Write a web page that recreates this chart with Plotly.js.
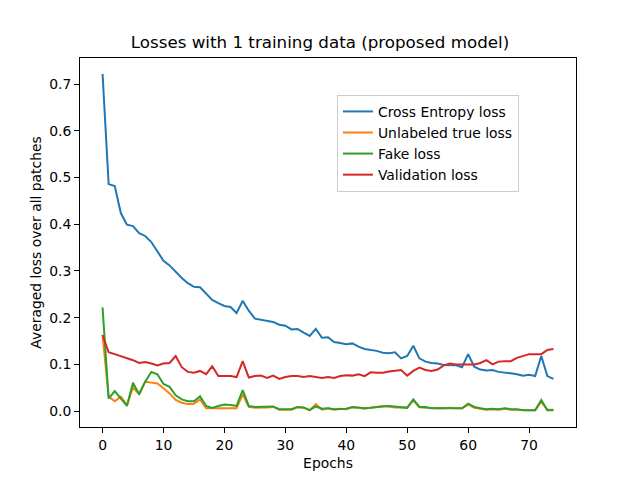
<!DOCTYPE html>
<html>
<head>
<meta charset="utf-8">
<script src="https://cdn.plot.ly/plotly-3.0.1.min.js"></script>
<style>
  body { margin: 0; background: #fff; }
  #plot1 { width: 640px; height: 480px; }
</style>
</head>
<body>
<div id="plot1"></div>
<script>
// values, one per epoch (0..74)
let epochs = [];
for (let i = 0; i < 75; i++) {
	epochs.push(i);
}

let crossEntropy = [0.722,0.486,0.482,0.424,0.399,0.396,0.381,0.375,0.362,0.342,
	0.322,0.312,0.298,0.285,0.274,0.266,0.265,0.252,0.238,0.231,
	0.225,0.223,0.210,0.236,0.215,0.198,0.196,0.193,0.191,0.185,
	0.183,0.175,0.176,0.168,0.161,0.176,0.157,0.158,0.148,0.146,
	0.143,0.145,0.138,0.133,0.131,0.129,0.125,0.124,0.126,0.113,
	0.118,0.140,0.113,0.106,0.103,0.102,0.099,0.098,0.098,0.094,
	0.122,0.095,0.089,0.087,0.088,0.084,0.083,0.081,0.079,0.076,
	0.078,0.075,0.118,0.075,0.069];

let unlabeledTrue = [0.163,0.031,0.021,0.031,0.013,0.051,0.036,0.063,0.061,0.059,
	0.049,0.038,0.024,0.018,0.015,0.016,0.025,0.006,0.006,0.006,
	0.006,0.006,0.006,0.036,0.009,0.007,0.007,0.008,0.009,0.003,
	0.003,0.003,0.008,0.007,0.002,0.015,0.003,0.006,0.003,0.005,
	0.004,0.008,0.007,0.005,0.007,0.009,0.011,0.010,0.008,0.008,
	0.008,0.023,0.008,0.007,0.006,0.006,0.006,0.007,0.006,0.006,
	0.014,0.007,0.005,0.003,0.004,0.003,0.005,0.003,0.003,0.002,
	0.002,0.002,0.020,0.003,0.003];

let fake = [0.222,0.027,0.043,0.028,0.011,0.061,0.036,0.063,0.084,0.079,
	0.058,0.052,0.034,0.025,0.021,0.021,0.032,0.011,0.007,0.011,
	0.014,0.013,0.011,0.045,0.011,0.009,0.009,0.009,0.010,0.004,
	0.004,0.004,0.009,0.008,0.002,0.010,0.005,0.006,0.004,0.005,
	0.005,0.009,0.008,0.006,0.007,0.009,0.010,0.011,0.010,0.009,
	0.007,0.025,0.009,0.009,0.006,0.006,0.006,0.006,0.006,0.006,
	0.016,0.009,0.006,0.004,0.005,0.004,0.006,0.004,0.004,0.002,
	0.002,0.002,0.024,0.002,0.002];

let validation = [0.163,0.126,0.122,0.118,0.114,0.109,0.103,0.105,0.102,0.098,
	0.102,0.103,0.118,0.094,0.084,0.082,0.086,0.079,0.096,0.075,
	0.075,0.075,0.073,0.107,0.072,0.075,0.076,0.071,0.076,0.069,
	0.073,0.075,0.075,0.073,0.075,0.073,0.071,0.073,0.071,0.075,
	0.077,0.076,0.079,0.075,0.083,0.082,0.082,0.085,0.086,0.088,
	0.076,0.086,0.093,0.088,0.086,0.089,0.098,0.102,0.100,0.100,
	0.100,0.100,0.103,0.109,0.100,0.106,0.107,0.107,0.114,0.118,
	0.122,0.122,0.122,0.131,0.133];

let seriesNames = ['Cross Entropy loss', 'Unlabeled true loss', 'Fake loss', 'Validation loss'];
let seriesColors = ['#1f77b4', '#ff7f0e', '#2ca02c', '#d62728'];
let seriesValues = [crossEntropy, unlabeledTrue, fake, validation];

let data = [];
for (let i = 0; i < seriesValues.length; i++) {
	data.push({
		x: epochs,
		y: seriesValues[i],
		type: 'scatter',
		mode: 'lines',
		name: seriesNames[i],
		line: {color: seriesColors[i], width: 2}
	});
}

let font = 'DejaVu Sans, sans-serif';

let layout = {
	width: 640,
	height: 480,
	margin: {l: 80, r: 64, t: 58, b: 53},
	paper_bgcolor: '#fff',
	plot_bgcolor: '#fff',
	font: {family: font, size: 13.9, color: '#000'},
	title: {
		text: 'Losses with 1 training data (proposed model)',
		font: {family: font, size: 16.7, color: '#000'},
		x: 0.5,
		xanchor: 'center',
		y: 1 - 42 / 480,
		yanchor: 'middle'
	},
	xaxis: {
		title: {text: 'Epochs', font: {size: 13.9}, standoff: 6},
		range: [-3.7, 77.7],
		tickvals: [0, 10, 20, 30, 40, 50, 60, 70],
		ticks: 'outside',
		ticklen: 5,
		tickwidth: 1,
		tickcolor: '#000',
		showgrid: false,
		zeroline: false,
		showline: true,
		linecolor: '#000',
		linewidth: 1,
		mirror: true
	},
	yaxis: {
		title: {text: 'Averaged loss over all patches', font: {size: 13.9}, standoff: 4},
		range: [-0.034, 0.756],
		tickvals: [0, 0.1, 0.2, 0.3, 0.4, 0.5, 0.6, 0.7],
		tickformat: '.1f',
		ticks: 'outside',
		ticklen: 5,
		tickwidth: 1,
		tickcolor: '#000',
		showgrid: false,
		zeroline: false,
		showline: true,
		linecolor: '#000',
		linewidth: 1,
		mirror: true
	},
	legend: {
		x: 0.518,
		y: 0.9,
		xanchor: 'left',
		yanchor: 'top',
		bgcolor: '#fff',
		bordercolor: '#cccccc',
		borderwidth: 1,
		font: {family: font, size: 13.9, color: '#000'}
	},
	showlegend: true
};

Plotly.newPlot('plot1', data, layout, {staticPlot: true});
</script>
</body>
</html>
